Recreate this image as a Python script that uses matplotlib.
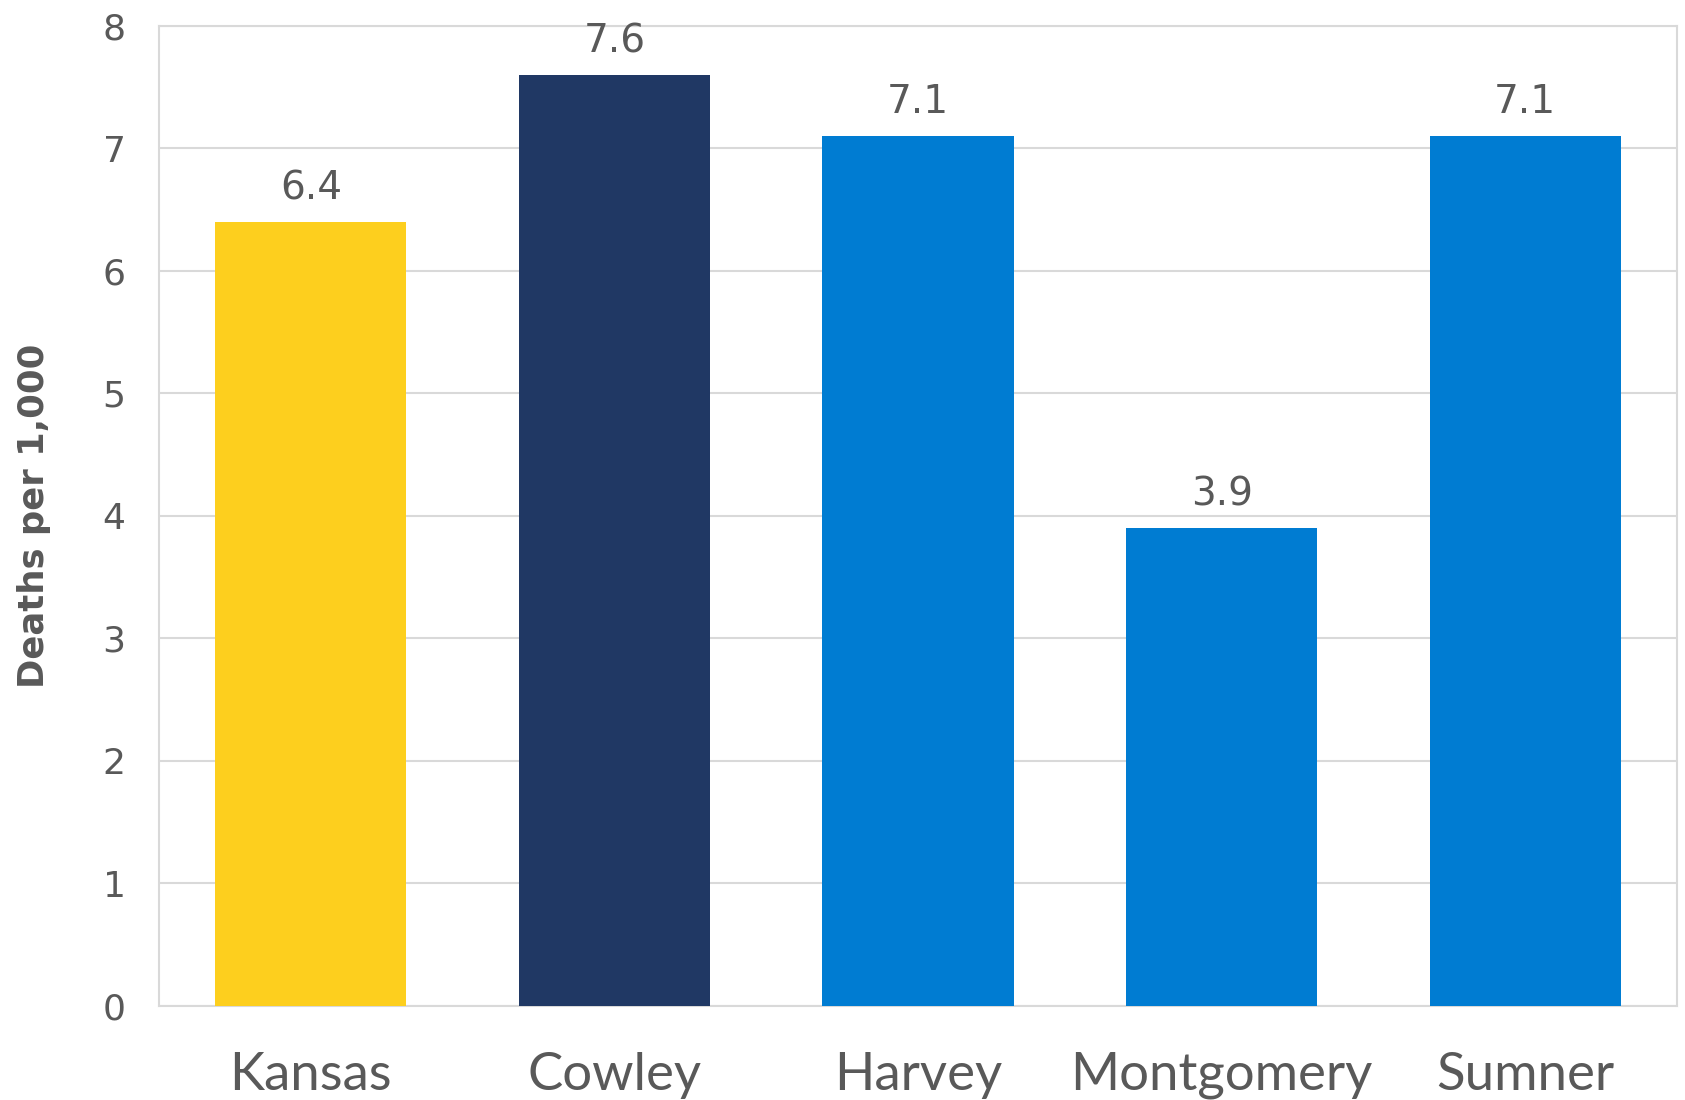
import matplotlib
matplotlib.use("Agg")
import matplotlib.pyplot as plt

categories = ["Kansas", "Cowley", "Harvey", "Montgomery", "Sumner"]
values = [6.4, 7.6, 7.1, 3.9, 7.1]
colors = ["#FDCF1E", "#203864", "#007CD2", "#007CD2", "#007CD2"]
yticks = [0, 1, 2, 3, 4, 5, 6, 7, 8]
ylabel = "Deaths per 1,000"

text_color = "#595959"
grid_color = "#D9D9D9"

fig = plt.figure(figsize=(16.85, 11.0), dpi=100)
ax = fig.add_axes([159/1685, 1-1006/1100, (1677-159)/1685, (1006-25.7)/1100])

x = list(range(len(categories)))
bars = ax.bar(x, values, width=0.63, color=colors, zorder=3)
ax.set_xlim(-0.5, len(categories) - 0.5)
ax.set_ylim(0, 8)
ax.set_yticks(yticks)
ax.set_yticklabels([str(t) for t in yticks], fontsize=26, color=text_color, family="DejaVu Sans")
ax.set_xticks(x)
ax.set_xticklabels(categories, fontsize=38, color=text_color, family="Lato")
ax.tick_params(axis="y", length=0, pad=24)
ax.tick_params(axis="x", length=0, pad=33)
ax.yaxis.grid(True, color=grid_color, linewidth=1.5, zorder=0)
for s in ax.spines.values():
    s.set_color(grid_color)
    s.set_linewidth(1.5)

for xi, v in zip(x, values):
    ax.text(xi, v + 0.12, f"{v:.1f}", ha="center", va="bottom", fontsize=28,
            color=text_color, family="DejaVu Sans")

ax.set_ylabel(ylabel, fontsize=25.5, fontweight="bold", color=text_color)
ax.yaxis.set_label_coords(-0.071, 0.5)

fig.savefig("out.png", dpi=100)
